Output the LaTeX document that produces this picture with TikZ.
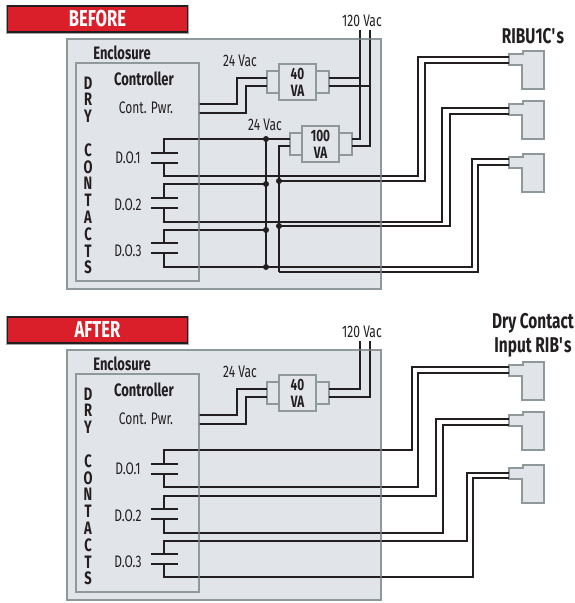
\documentclass[tikz,border=0pt]{standalone}
\usepackage{fontspec}
\setmainfont[FakeStretch=0.72]{Fira Sans}
\definecolor{encfill}{HTML}{E1E4E9}
\definecolor{bordergray}{HTML}{8F999C}
\definecolor{ink}{HTML}{231F20}
\definecolor{redband}{HTML}{DA1F2B}
\newcommand{\fs}[1]{\fontsize{#1}{#1}\selectfont}
\tikzset{
  every node/.style={inner sep=0pt,outer sep=0pt,text=ink},
  enclosurebox/.style={fill=encfill,draw=bordergray,line width=2pt,minimum width=314pt,minimum height=250pt},
  controllerbox/.style={draw=bordergray,line width=2pt,minimum width=123pt,minimum height=218pt},
  bannerbox/.style={fill=redband,draw=ink,line width=1.8pt,minimum width=180pt,minimum height=26pt,text=white,font=\fs{23}\bfseries,
     preaction={draw=black!35,line width=3pt}},
  xfcore/.style={fill=encfill,draw=bordergray,line width=2pt,minimum width=37pt,minimum height=36pt,align=center,font=\fs{16.4}\bfseries,execute at begin node={\baselineskip=17pt}},
  xfsocket/.style={fill=encfill,draw=bordergray,line width=2pt,minimum width=13pt,minimum height=22pt},
  ribbody/.style={fill=encfill,draw=bordergray,line width=2pt,line join=miter},
  wire/.style={draw=ink,line width=1.5pt,line join=miter},
  powerwire/.style={draw=ink,line width=2pt,line join=miter},
  plate/.style={draw=ink,line width=1.7pt},
  label/.style={font=\fs{16.7}},
  boldlabel/.style={font=\fs{18}\bfseries},
  headlabel/.style={font=\fs{21.4}\bfseries},
  junction/.style={fill=ink,circle,minimum size=6pt},
  overlay border/.style={draw=bordergray,line width=2pt,opacity=.6}
}
% prefix, y offset, banner text
\newcommand{\panelparts}[3]{%
\begin{scope}[yshift=-#2pt]
  \node[bannerbox] (#1-ban) at (97.5,19) {\raisebox{-1.5pt}{#3}};
  \node[enclosurebox] (#1-enc) at (224,164) {};
  \node[controllerbox] (#1-ctl) at (137.5,172) {};
  \node[boldlabel] (#1-enctext) at (122,52.5) {Enclosure};
  \node[boldlabel] (#1-ctltext) at (144,78.5) {Controller};
  \node[label] (#1-pwr) at (146,108) {Cont. Pwr.};
  \node[boldlabel,align=center,execute at begin node={\baselineskip=16.8pt}] (#1-dry) at (88,175.5)
     {D\\R\\Y\\[16.8pt]C\\O\\N\\T\\A\\C\\T\\S};
  \node[label] (#1-do1) at (128,157.5) {D.O.1};
  \node[label] (#1-do2) at (128,204.5) {D.O.2};
  \node[label] (#1-do3) at (128,250.5) {D.O.3};
  \node[label] (#1-v24) at (240,61) {24 Vac};
  \node[label] (#1-v120) at (362,21) {120 Vac};
  \node[xfsocket] (#1-x40l) at (273,82) {};
  \node[xfsocket] (#1-x40r) at (322.5,82) {};
  \node[xfcore] (#1-x40) at (297.5,82) {40\\VA};
  \coordinate (#1-pa) at (199,104);
  \coordinate (#1-pb) at (199,113);
  \coordinate (#1-la) at (267,78);
  \coordinate (#1-lb) at (267,86);
  \coordinate (#1-ra) at (329,78);
  \coordinate (#1-rb) at (329,86);
  \coordinate (#1-ma) at (360,30);
  \coordinate (#1-mb) at (370,30);
  \foreach \n/\a/\b in {1/153/163,2/198/208,3/243/253}{
    \draw[plate] (151,\a) -- (178,\a);
    \draw[plate] (151,\b) -- (178,\b);
    \coordinate (#1-do\n a) at (164,\a);
    \coordinate (#1-do\n b) at (164,\b);
  }
\end{scope}
  \draw[powerwire] (#1-pa) -| ([xshift=-30pt]#1-la) -- (#1-la);
  \draw[powerwire] (#1-pb) -| ([xshift=-21pt]#1-lb) -- (#1-lb);
}
\newcommand{\panelborders}[1]{%
  \draw[overlay border] (#1-enc.north west) rectangle (#1-enc.south east);
  \draw[overlay border] (#1-ctl.north west) rectangle (#1-ctl.south east);
}
% name, top, wire a y, wire b y
\newcommand{\ribshape}[4]{%
  \draw[ribbody] (509,#2+3) -- (523,#2+3) -- (523,#2) -- (544,#2) -- (544,#2+38) -- (522,#2+38) -- (522,#2+14) -- (509,#2+14) -- cycle;
  \coordinate (#1a) at (509,#3);
  \coordinate (#1b) at (509,#4);
}
\begin{document}
\begin{tikzpicture}[x=1pt,y=-1pt]
\useasboundingbox (0,0) rectangle (574,603);
\fill[white] (0,0) rectangle (574,603);

% ---------- BEFORE ----------
\panelparts{b}{0}{BEFORE}
\node[xfsocket] (b-x100l) at (296,144) {};
\node[xfsocket] (b-x100r) at (345.5,144) {};
\node[xfcore] (b-x100) at (320.5,144) {100\\VA};
\node[label] (b-v24b) at (265,125) {24 Vac};
\node[headlabel] (b-ribtext) at (533,36) {RIBU1C\textquotesingle s};
\ribshape{b-r1}{51}{57}{63}
\ribshape{b-r2}{101}{108}{114}
\ribshape{b-r3}{154}{159}{165}
\coordinate (b-j1) at (266,139);
\coordinate (b-j2) at (266,184);
\coordinate (b-j3) at (266,230);
\coordinate (b-j4) at (266,267);
\coordinate (b-k0) at (279,146);
\coordinate (b-k1) at (279,181);
\coordinate (b-k2) at (279,226);
\coordinate (b-k3) at (279,272);
\coordinate (b-t1) at (290,139);
\coordinate (b-t2) at (290,146);
\coordinate (b-s1) at (352,139);
\coordinate (b-s2) at (352,146);
\draw[powerwire] (b-ra) -- (b-ma |- b-ra);
\draw[powerwire] (b-rb) -- (b-mb |- b-rb);
\draw[powerwire] (b-ma) |- (b-s1);
\draw[powerwire] (b-mb) |- (b-s2);
\draw[wire] (b-do1a) |- (b-j1) -- (b-t1);
\draw[wire] (b-do2a) |- (b-j2);
\draw[wire] (b-do3a) |- (b-j3);
\draw[wire] (b-do3b) |- (b-j4);
\draw[wire] (b-j1) -- (b-j4);
\draw[wire] (b-t2) -- (b-k0) -- (b-k3);
\draw[wire] (b-do1b) |- (418,176) -- (418,57) -- (b-r1a);
\draw[wire] (b-k1) -- (425,181) -- (425,63) -- (b-r1b);
\draw[wire] (b-do2b) |- (442,222) -- (442,108) -- (b-r2a);
\draw[wire] (b-k2) -- (450,226) -- (450,114) -- (b-r2b);
\draw[wire] (b-j4) -- (472,267) -- (472,159) -- (b-r3a);
\draw[wire] (b-k3) -- (478,272) -- (478,165) -- (b-r3b);
\foreach \c in {b-j1,b-j2,b-j3,b-j4,b-k1,b-k2}{\node[junction] at (\c) {};}
\panelborders{b}

% ---------- AFTER ----------
\panelparts{a}{311}{AFTER}
\node[headlabel,align=center,execute at begin node={\baselineskip=24pt}] (a-ribtext) at (533,335) {Dry Contact\\Input RIB\textquotesingle s};
\ribshape{a-r1}{362}{367}{373}
\ribshape{a-r2}{412}{419}{425}
\ribshape{a-r3}{465}{473}{478}
\draw[powerwire] (a-ma) |- (a-ra);
\draw[powerwire] (a-mb) |- (a-rb);
\draw[wire] (a-do1a) |- (412,450) -- (412,367) -- (a-r1a);
\draw[wire] (a-do1b) |- (418,487) -- (418,373) -- (a-r1b);
\draw[wire] (a-do2a) |- (436,496) -- (436,419) -- (a-r2a);
\draw[wire] (a-do2b) |- (443,533) -- (443,425) -- (a-r2b);
\draw[wire] (a-do3a) |- (467,541) -- (467,473) -- (a-r3a);
\draw[wire] (a-do3b) |- (473,577) -- (473,478) -- (a-r3b);
\panelborders{a}
\end{tikzpicture}
\end{document}
